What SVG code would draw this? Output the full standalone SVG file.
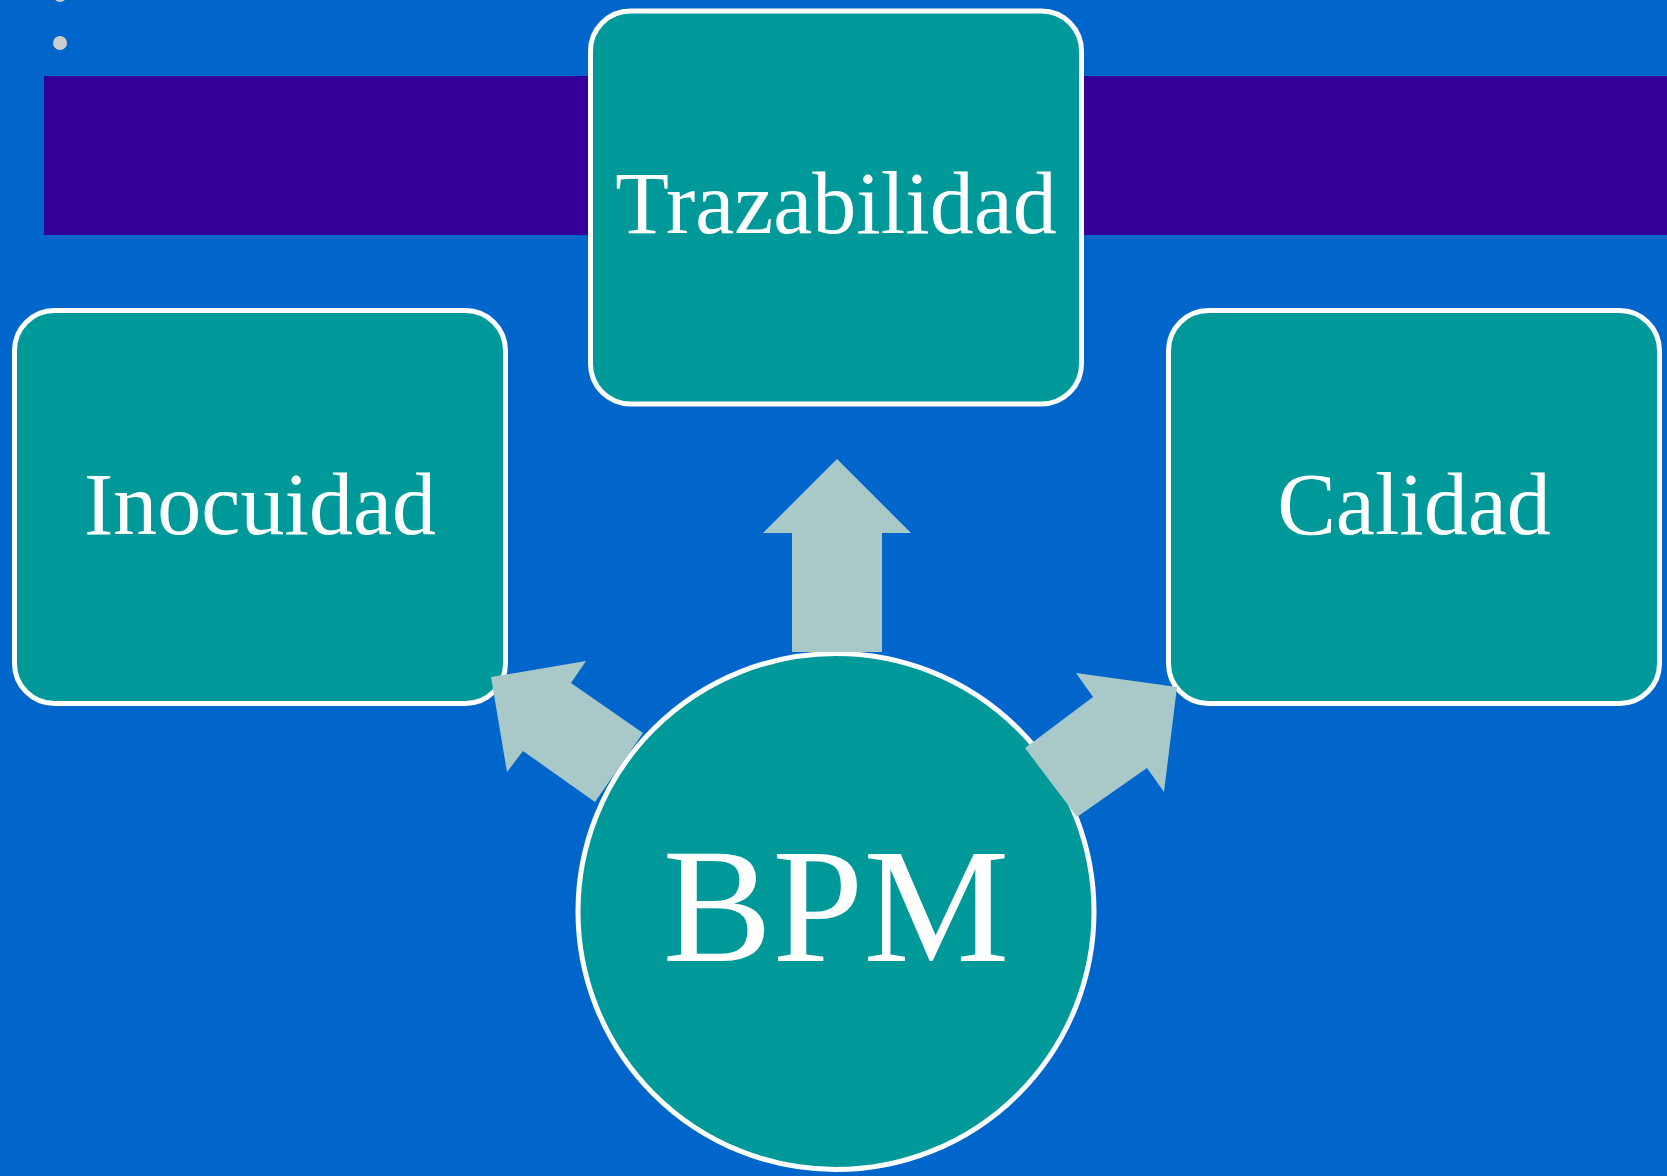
<svg xmlns="http://www.w3.org/2000/svg" width="1667" height="1176" viewBox="0 0 1667 1176">
  <style>
    .box { fill: #009999; stroke: #FFFFFF; stroke-width: 5; }
    .lbl { font-family: "Liberation Serif", "Times New Roman", serif; fill: #FFFFFF; text-anchor: middle; }
    .arrow { fill: #A9C9C9; stroke: none; }
    .dot { fill: #CCCCCC; }
  </style>
  <rect x="0" y="0" width="1667" height="1176" fill="#0066CC"/>
  <rect x="44" y="76" width="1623" height="159" fill="#330099"/>
  <circle class="dot" cx="60" cy="-5" r="7"/>
  <circle class="dot" cx="60" cy="43" r="7"/>

  <g id="node-trazabilidad">
    <rect class="box" x="590.5" y="11" width="491" height="393" rx="40" ry="40"/>
    <text class="lbl" x="836" y="233" font-size="88">Trazabilidad</text>
  </g>
  <g id="node-inocuidad">
    <rect class="box" x="14.5" y="310.5" width="491" height="393" rx="40" ry="40"/>
    <text class="lbl" x="260" y="534" font-size="88">Inocuidad</text>
  </g>
  <g id="node-calidad">
    <rect class="box" x="1168.5" y="310.5" width="491" height="393" rx="40" ry="40"/>
    <text class="lbl" x="1414" y="534" font-size="88">Calidad</text>
  </g>
  <g id="node-bpm">
    <circle class="box" cx="836" cy="911.5" r="258" stroke-width="4"/>
    <text class="lbl" x="836" y="961" font-size="164">BPM</text>
  </g>

  <g id="connectors">
    <polygon class="arrow" points="837,459 911,533 882,533 882,652 792,652 792,533 763,533"/>
    <polygon class="arrow" points="491,677 586,661 571,683 643,733 595,802 523,751 507,772"/>
    <polygon class="arrow" points="1177,687 1164,792 1147,768 1077,817 1025,748 1093,697 1076,673"/>
  </g>
</svg>
